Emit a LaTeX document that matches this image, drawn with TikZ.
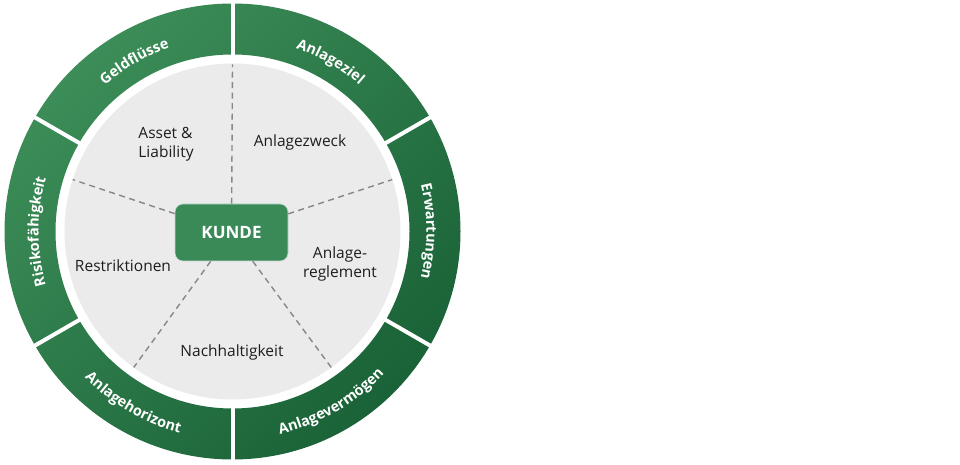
\documentclass[tikz,border=0pt]{standalone}
\usepackage{fontspec}
\setmainfont{Open Sans}
\usetikzlibrary{decorations.text}
\definecolor{gLight}{RGB}{60,141,88}
\definecolor{gDark}{RGB}{26,98,55}
\definecolor{kundeGreen}{RGB}{58,138,88}
\definecolor{diskGrey}{RGB}{235,235,235}
\definecolor{dashGrey}{RGB}{135,135,135}
\definecolor{labelText}{RGB}{30,30,30}
\tikzset{
  ringlabel/.style={decorate, decoration={text along path, text align=center, text color=white,
      text={|\fontsize{14.5}{17}\selectfont\bfseries|#1}}},
  innerlabel/.style={font=\fontsize{15.5}{19}\selectfont, align=center, text=labelText, inner sep=0pt},
  spoke/.style={draw=dashGrey, line width=1.4pt, dash pattern=on 6pt off 4.5pt},
  separator/.style={draw=white, line width=4pt},
  kundebox/.style={fill=kundeGreen, rounded corners=8pt, minimum width=113pt, minimum height=57pt,
      text=white, font=\fontsize{17}{20}\selectfont\bfseries, draw=white!70!kundeGreen, line width=0.6pt}
}
\begin{document}
\begin{tikzpicture}[x=1pt,y=1pt]
\useasboundingbox (0,0) rectangle (960,465);
\fill[white] (0,0) rectangle (960,465);
\coordinate (C) at (232.5,233.5);
\begin{scope}[shift={(C)}]
  % outer ring
  \shade[even odd rule, top color=gLight, bottom color=gDark, shading angle=45]
     (0,0) circle[radius=228] (0,0) circle[radius=177];
  \foreach \a in {30,90,...,330} \draw[separator] (\a:174) -- (\a:231);
  % grey disk
  \fill[diskGrey] (0,0) circle[radius=168];
  % ring labels
  \path[ringlabel=Geldflüsse] (150:194) arc[start angle=150, end angle=90, radius=194];
  \path[ringlabel=Anlageziel] (90:194) arc[start angle=90, end angle=30, radius=194];
  \path[ringlabel=Erwartungen] (30:194) arc[start angle=30, end angle=-30, radius=194];
  \path[ringlabel=Risikofähigkeit] (210:194) arc[start angle=210, end angle=150, radius=194];
  \path[ringlabel=Anlagehorizont] (210:208) arc[start angle=210, end angle=270, radius=208];
  \path[ringlabel=Anlagevermögen] (270:208) arc[start angle=270, end angle=330, radius=208];
  % centre
  \node[kundebox] (kunde) at (-1,-1) {KUNDE};
  \coordinate (s1) at (90:167);
  \coordinate (s2) at (162:168);
  \coordinate (s3) at (18:168);
  \coordinate (s4) at (234:168);
  \coordinate (s5) at (306:168);
  \foreach \s in {s1,s2,s3,s4,s5} \draw[spoke] (kunde) -- (\s);
  % inner labels
  \node[innerlabel, align=left] (asset) at (-66.5,87.5) {Asset \&\\Liability};
  \node[innerlabel] (zweck) at (67.5,89.5) {Anlagezweck};
  \node[innerlabel] (restr) at (-109.5,-34.5) {Restriktionen};
  \node[innerlabel] (regl) at (107.5,-32.5) {Anlage-\\reglement};
  \node[innerlabel] (nachh) at (-0.5,-120.5) {Nachhaltigkeit};
\end{scope}
\end{tikzpicture}
\end{document}
